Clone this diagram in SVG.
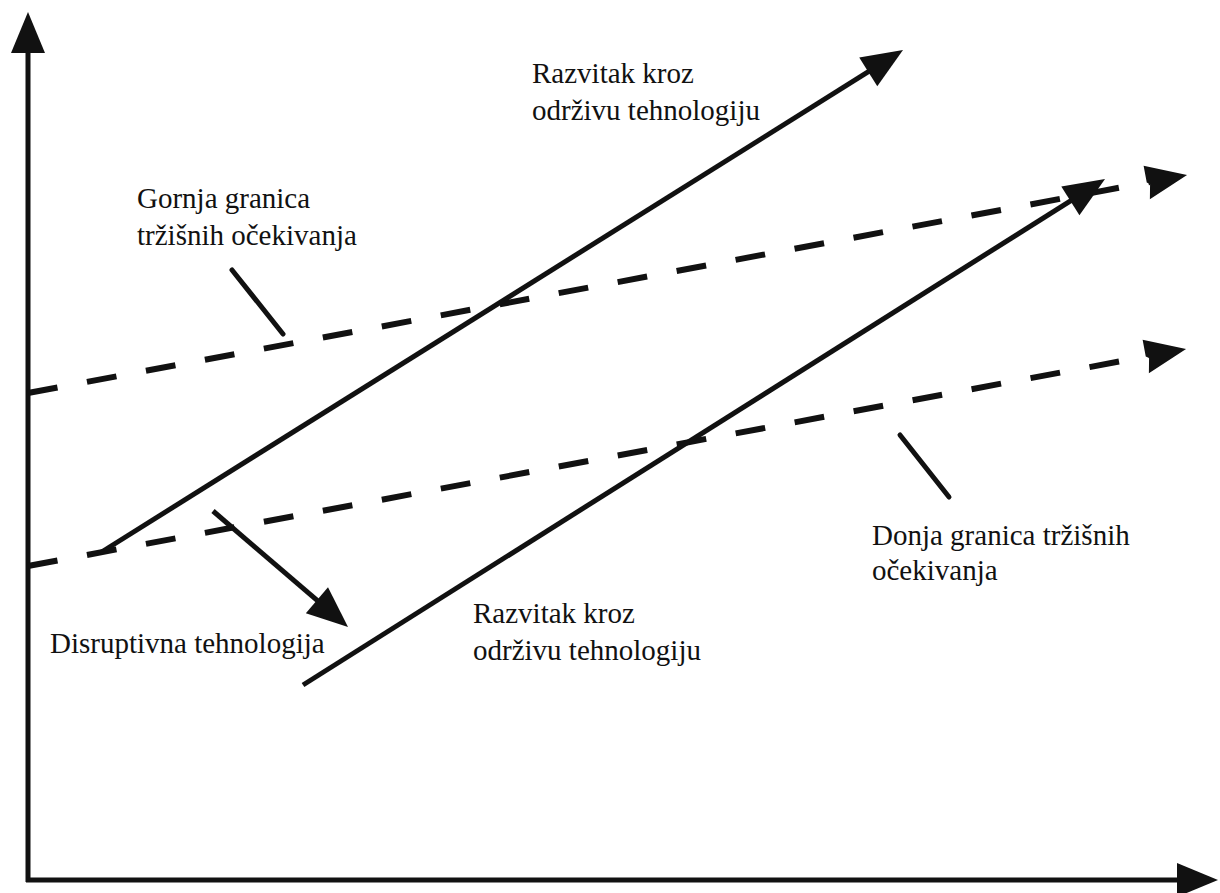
<svg xmlns="http://www.w3.org/2000/svg" width="1220" height="893" viewBox="0 0 1220 893">
<style>
.ln{stroke:#111;stroke-width:5;fill:none}
.ax{stroke:#111;stroke-width:5;fill:none}
.dash{stroke:#111;stroke-width:6;fill:none;stroke-dasharray:30 30}
.lead{stroke:#111;stroke-width:5;fill:none;stroke-linecap:round}
text{font-family:"Liberation Serif","Times New Roman",serif;font-size:29px;fill:#111}
</style>
<defs>
<marker id="head" markerUnits="userSpaceOnUse" orient="auto" refX="3" refY="0" overflow="visible" markerWidth="50" markerHeight="40">
<path d="M0,-17 L41,0 L0,17 Z" fill="#111"/>
</marker>
<marker id="headN" markerUnits="userSpaceOnUse" orient="auto" refX="3" refY="0" overflow="visible" markerWidth="50" markerHeight="40">
<path d="M0,-17 L41,0 L0,17 L3,2 L0,0 Z" fill="#111"/>
</marker>
</defs>
<g id="axes">
<line class="ax" x1="28" y1="882" x2="28" y2="50" marker-end="url(#head)"/>
<line class="ax" x1="26" y1="880" x2="1180" y2="880" marker-end="url(#head)"/>
</g>
<g id="connectors">
<line class="dash" x1="28" y1="393" x2="1149.7" y2="182" marker-end="url(#headN)"/>
<line class="dash" x1="28" y1="566" x2="1148.7" y2="356" marker-end="url(#headN)"/>
<line class="ln" x1="100" y1="553" x2="870.8" y2="70.2" marker-end="url(#head)"/>
<line class="ln" x1="303" y1="685" x2="1072.9" y2="199.3" marker-end="url(#head)"/>
<line class="ln" x1="213" y1="511" x2="319.2" y2="602.2" marker-end="url(#head)"/>
<line class="lead" x1="232" y1="270" x2="283" y2="334"/>
<line class="lead" x1="900" y1="435" x2="949" y2="497"/>
</g>
<g id="label-upper-sustaining">
<text x="532" y="83">Razvitak kroz</text>
<text x="532" y="120">održivu tehnologiju</text>
</g>
<g id="label-upper-bound">
<text x="137" y="208">Gornja granica</text>
<text x="137" y="245">tržišnih očekivanja</text>
</g>
<g id="label-lower-bound">
<text x="872" y="545">Donja granica tržišnih</text>
<text x="872" y="580">očekivanja</text>
</g>
<g id="label-disruptive">
<text x="50" y="653">Disruptivna tehnologija</text>
</g>
<g id="label-lower-sustaining">
<text x="473" y="623">Razvitak kroz</text>
<text x="473" y="660">održivu tehnologiju</text>
</g>
</svg>
